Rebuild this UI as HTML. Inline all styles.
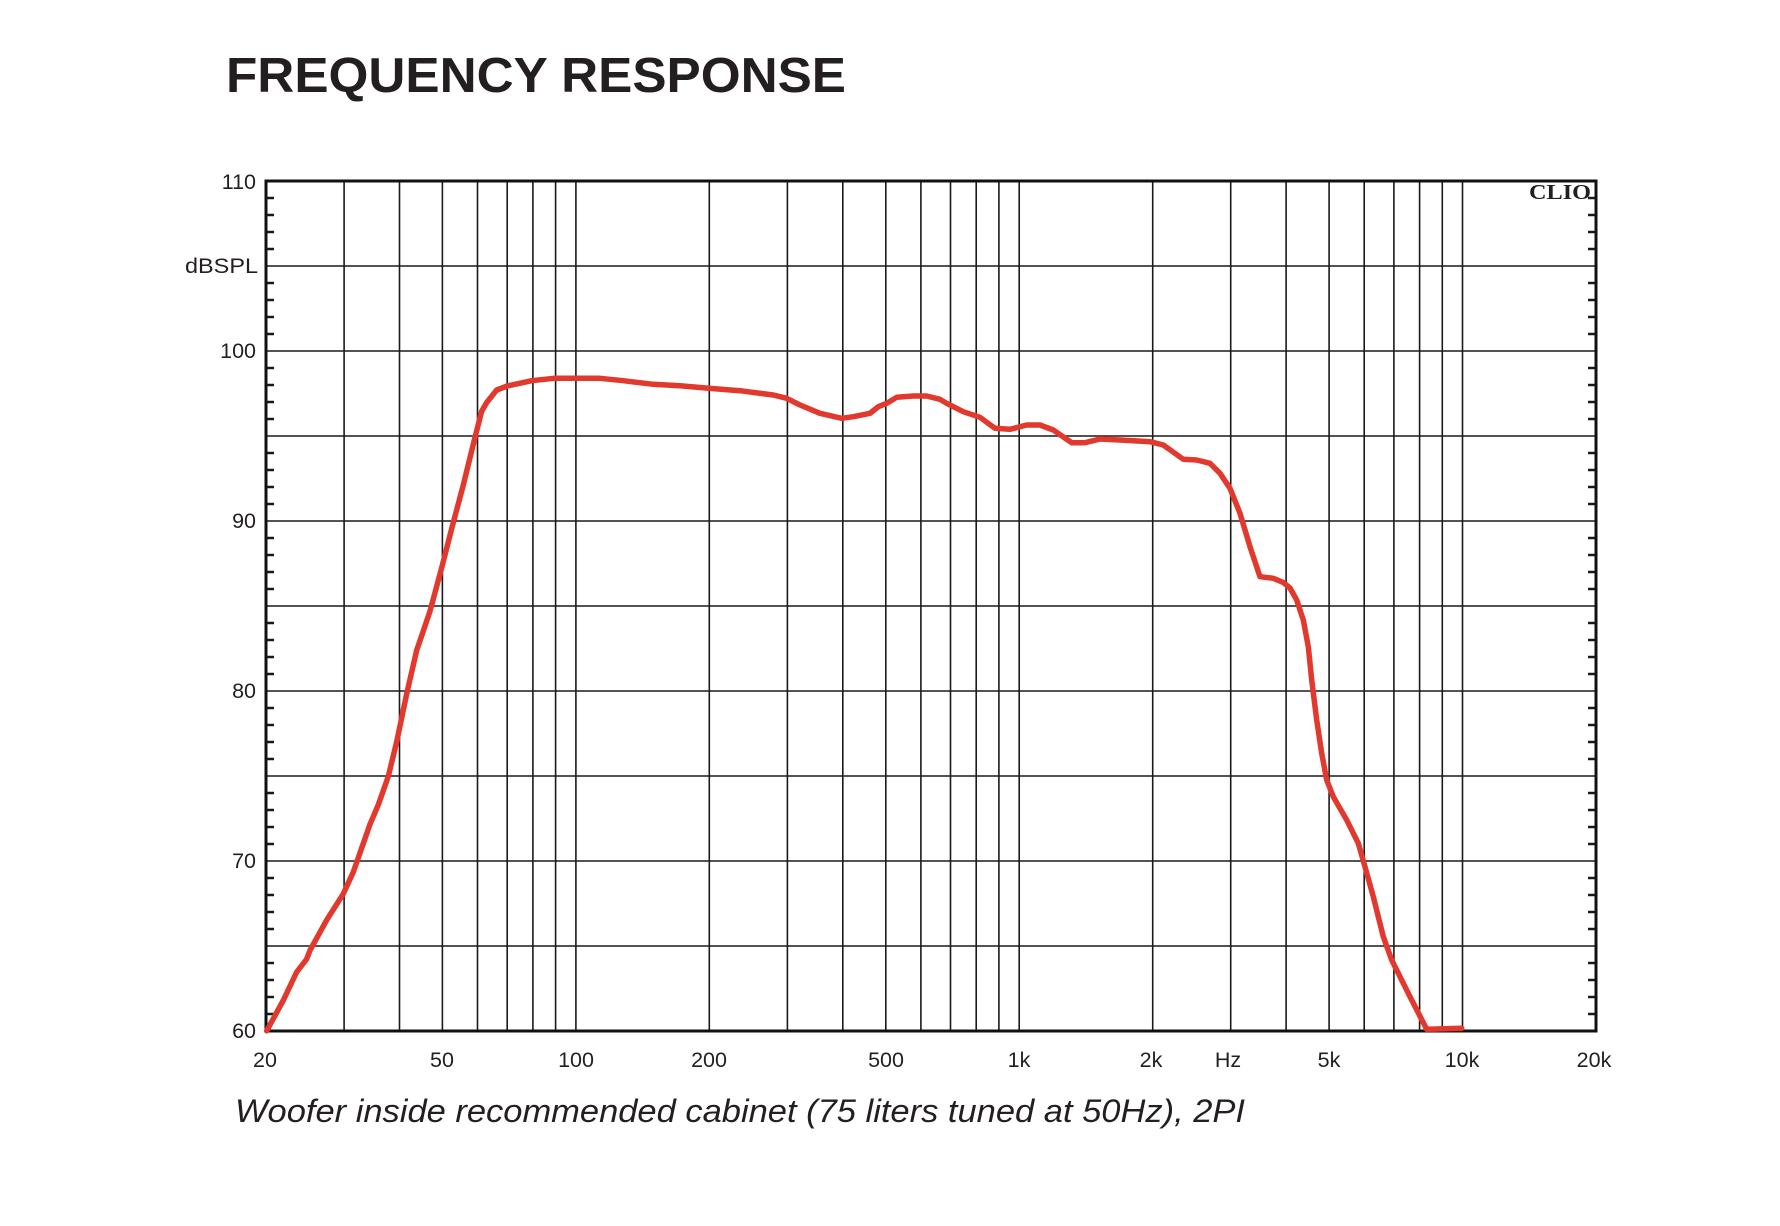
<!DOCTYPE html>
<html>
<head>
<meta charset="utf-8">
<style>
html,body{margin:0;padding:0;background:#fff;}
svg{display:block;}
text{font-family:"Liberation Sans",Arial,sans-serif;fill:#231f20;}
</style>
</head>
<body>
<svg width="1780" height="1226" viewBox="0 0 1780 1226" xmlns="http://www.w3.org/2000/svg">
<rect width="1780" height="1226" fill="#fff"/>
<text x="226" y="92" font-size="49" font-weight="bold" textLength="620" lengthAdjust="spacingAndGlyphs">FREQUENCY RESPONSE</text>

<!-- vertical grid -->
<g stroke="#1a1a1a" stroke-width="1.6" fill="none">
<path d="M344.1 181V1031 M399.5 181V1031 M442.4 181V1031 M477.5 181V1031 M507.2 181V1031 M532.9 181V1031 M555.6 181V1031 M575.9 181V1031 M709.3 181V1031 M787.4 181V1031 M842.8 181V1031 M885.8 181V1031 M920.9 181V1031 M950.5 181V1031 M976.2 181V1031 M998.9 181V1031 M1019.2 181V1031 M1152.7 181V1031 M1230.7 181V1031 M1286.1 181V1031 M1329.1 181V1031 M1364.2 181V1031 M1393.9 181V1031 M1419.6 181V1031 M1442.3 181V1031 M1462.5 181V1031"/>
<path d="M266 266H1596 M266 351H1596 M266 436H1596 M266 521H1596 M266 606H1596 M266 691H1596 M266 776H1596 M266 861H1596 M266 946H1596"/>
</g>
<!-- minor ticks -->
<g stroke="#1a1a1a" stroke-width="2.4" fill="none">
<path d="M266 198h8M266 215h8M266 232h8M266 249h8M266 283h8M266 300h8M266 317h8M266 334h8M266 368h8M266 385h8M266 402h8M266 419h8M266 453h8M266 470h8M266 487h8M266 504h8M266 538h8M266 555h8M266 572h8M266 589h8M266 623h8M266 640h8M266 657h8M266 674h8M266 708h8M266 725h8M266 742h8M266 759h8M266 793h8M266 810h8M266 827h8M266 844h8M266 878h8M266 895h8M266 912h8M266 929h8M266 963h8M266 980h8M266 997h8M266 1014h8"/>
<path d="M1596 198h-8M1596 215h-8M1596 232h-8M1596 249h-8M1596 283h-8M1596 300h-8M1596 317h-8M1596 334h-8M1596 368h-8M1596 385h-8M1596 402h-8M1596 419h-8M1596 453h-8M1596 470h-8M1596 487h-8M1596 504h-8M1596 538h-8M1596 555h-8M1596 572h-8M1596 589h-8M1596 623h-8M1596 640h-8M1596 657h-8M1596 674h-8M1596 708h-8M1596 725h-8M1596 742h-8M1596 759h-8M1596 793h-8M1596 810h-8M1596 827h-8M1596 844h-8M1596 878h-8M1596 895h-8M1596 912h-8M1596 929h-8M1596 963h-8M1596 980h-8M1596 997h-8M1596 1014h-8"/>
</g>
<rect x="266" y="181" width="1330" height="850" fill="none" stroke="#111" stroke-width="3"/>

<!-- curve -->
<polyline fill="none" stroke="#e2392f" stroke-width="5.5" stroke-linejoin="round" stroke-linecap="round" points="
266.7,1030.8 283.3,1000.3 296.7,972 306.7,959 310,950.3 326.7,920 343.3,893.8 353.3,872 370,824.3 378.3,804.7 388.3,776.4 396.7,741.7 406.7,693.8 416.7,650.3 430,611.2 441.7,567.7 451.7,528.6 463.3,485 475,437.3 481.7,411.2 486.7,402.5 496.7,390 507.3,386 531.7,380.7 554,378.3 575,378.3 600,378.3 623.3,380.7 653.3,384.3 680,385.7 708.7,388.3 740,390.7 773.3,395 786.7,398.3 800,405 820,413.3 841.7,418.3 853.3,416.7 870,413.3 878.3,406.7 886.7,403.3 896.7,397.3 913.3,396 926.7,396 940,399.3 946.7,403.3 963.3,411.7 980,417.3 995,428.3 1010,429.3 1026.7,425 1040,425 1053.3,430 1071.7,442.7 1085,442.7 1100,439 1120,440 1150,441.7 1163.3,445 1183.3,459.3 1196.7,460 1210,463.3 1220,473.3 1230,488.3 1240,513.3 1250,546.7 1260,576.7 1273.3,578.3 1283.3,582.5 1290,588 1296.7,600 1303.3,620 1308.3,646.7 1311.7,680 1316.7,720 1321.7,753.3 1326.7,780 1333.3,796.7 1346.7,820 1358.3,843.3 1365,866.7 1373.3,896.7 1383.3,936.7 1391.7,960 1410,996.7 1426.7,1029.3 1461.7,1028.3"/>

<text x="1529" y="199" font-weight="bold" font-size="21" textLength="62" lengthAdjust="spacingAndGlyphs" style="font-family:'Liberation Serif',serif">CLIO</text>

<!-- y labels -->
<g font-size="21.5" text-anchor="end">
<text x="256" y="189">110</text>
<text x="258" y="273" textLength="73" lengthAdjust="spacingAndGlyphs">dBSPL</text>
<text x="256" y="358">100</text>
<text x="256" y="528">90</text>
<text x="256" y="698">80</text>
<text x="256" y="868">70</text>
<text x="256" y="1038">60</text>
</g>
<!-- x labels -->
<g font-size="21.5" text-anchor="middle">
<text x="265" y="1067">20</text>
<text x="442" y="1067">50</text>
<text x="576" y="1067">100</text>
<text x="709" y="1067">200</text>
<text x="886" y="1067">500</text>
<text x="1019" y="1067">1k</text>
<text x="1151" y="1067">2k</text>
<text x="1228" y="1067">Hz</text>
<text x="1329" y="1067">5k</text>
<text x="1462" y="1067">10k</text>
<text x="1594" y="1067">20k</text>
</g>

<text x="235" y="1122" font-size="32" font-style="italic" textLength="1010" lengthAdjust="spacingAndGlyphs">Woofer inside recommended cabinet (75 liters tuned at 50Hz), 2PI</text>
</svg>
</body>
</html>
